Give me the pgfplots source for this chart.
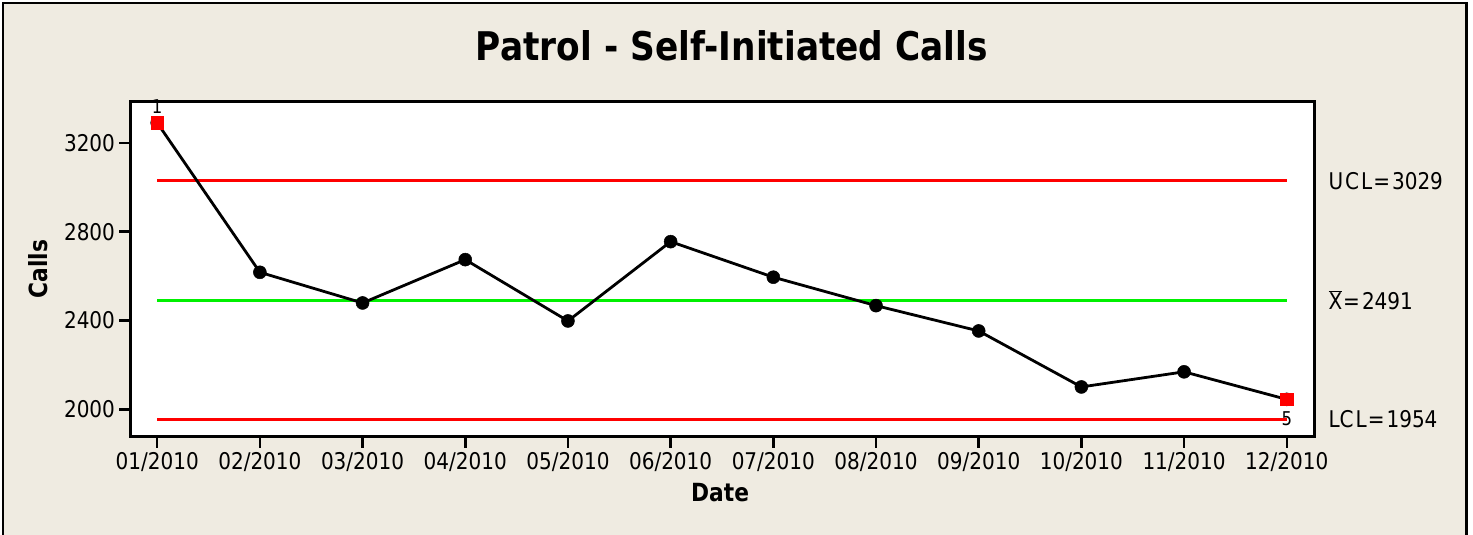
\documentclass[border=0pt]{standalone}
\usepackage{pgfplots}
\pgfplotsset{compat=1.18}
\usepackage{fontspec}
\setmainfont{DejaVu Sans}[FakeStretch=0.87]
\definecolor{bg}{RGB}{239,235,225}
\definecolor{ctlgreen}{RGB}{0,240,0}
\begin{document}
\begin{tikzpicture}[x=1pt,y=1pt]
\fill[white] (0,0) rectangle (1473,535);
\useasboundingbox (0,0) rectangle (1473,535);
\fill[bg] (3,0) rectangle (1466,532);
\draw[line width=2pt] (3,-2) -- (3,532) -- (1466,532);
\draw[line width=3pt] (1466,533) -- (1466,-2);
\begin{axis}[
  at={(130.5pt,98.3pt)}, anchor=south west,
  scale only axis, width=1184pt, height=335pt,
  xmin=0.74, xmax=12.27, ymin=1877, ymax=3385,
  clip=false,
  axis background/.style={fill=white},
  axis line style={line width=2.7pt},
  xtick={1,2,3,4,5,6,7,8,9,10,11,12},
  xticklabels={01/2010,02/2010,03/2010,04/2010,05/2010,06/2010,07/2010,08/2010,09/2010,10/2010,11/2010,12/2010},
  ytick={2000,2400,2800,3200},
  /pgf/number format/assume math mode=true,
  /pgf/number format/1000 sep={},
  tick align=outside, xtick pos=left, ytick pos=left,
  major tick length=11pt,
  tick style={black, line width=2.5pt},
  tick label style={font=\fontsize{23}{25}\selectfont},
  xticklabel style={yshift=-1pt},
  yticklabel style={xshift=-1pt},
  title={Patrol - Self-Initiated Calls},
  title style={font=\fontsize{39.5}{44}\selectfont\bfseries, at={(axis description cs:0.508,1.15)}, anchor=center},
  xlabel={Date}, ylabel={Calls},
  every axis x label/.style={at={(axis description cs:0.498,-0.168)}, anchor=center, font=\fontsize{25}{28}\selectfont\bfseries},
  every axis y label/.style={at={(axis description cs:-0.078,0.5)}, rotate=90, anchor=center, font=\fontsize{25}{28}\selectfont\bfseries},
]
\addplot[red, line width=3pt] coordinates {(1,3029) (12,3029)};
\addplot[ctlgreen, line width=3pt] coordinates {(1,2491) (12,2491)};
\addplot[red, line width=3pt] coordinates {(1,1954) (12,1954)};
\addplot[black, line width=2.8pt, mark=*, mark size=6.5pt, mark options={solid, fill=black, line width=0.5pt}] coordinates {
 (1,3290) (2,2617) (3,2479) (4,2674) (5,2398) (6,2755)
 (7,2595) (8,2467) (9,2353) (10,2101) (11,2169) (12,2045)};
\addplot[only marks, mark=square*, mark size=6.3pt, red, mark options={line width=0.5pt}] coordinates {(1,3290) (12,2045)};
\node[font=\fontsize{19}{21}\selectfont, inner sep=0pt] at (axis cs:1,3362) {1};
\node[font=\fontsize{19}{21}\selectfont, inner sep=0pt] at (axis cs:12,1960) {5};
\node[font=\fontsize{23}{25}\selectfont, anchor=west, inner sep=0pt] at (axis cs:12.405,3029) {U\kern2pt C\kern2pt L\kern1pt=\kern2pt3029};
\node[font=\fontsize{23}{25}\selectfont, anchor=west, inner sep=0pt] at (axis cs:12.405,2491) {$\overline{\mbox{X}}$\kern1pt=\kern2pt2491};
\node[font=\fontsize{23}{25}\selectfont, anchor=west, inner sep=0pt] at (axis cs:12.405,1954) {LC\kern2pt L\kern1pt=\kern2pt1954};
\end{axis}
\end{tikzpicture}
\end{document}
